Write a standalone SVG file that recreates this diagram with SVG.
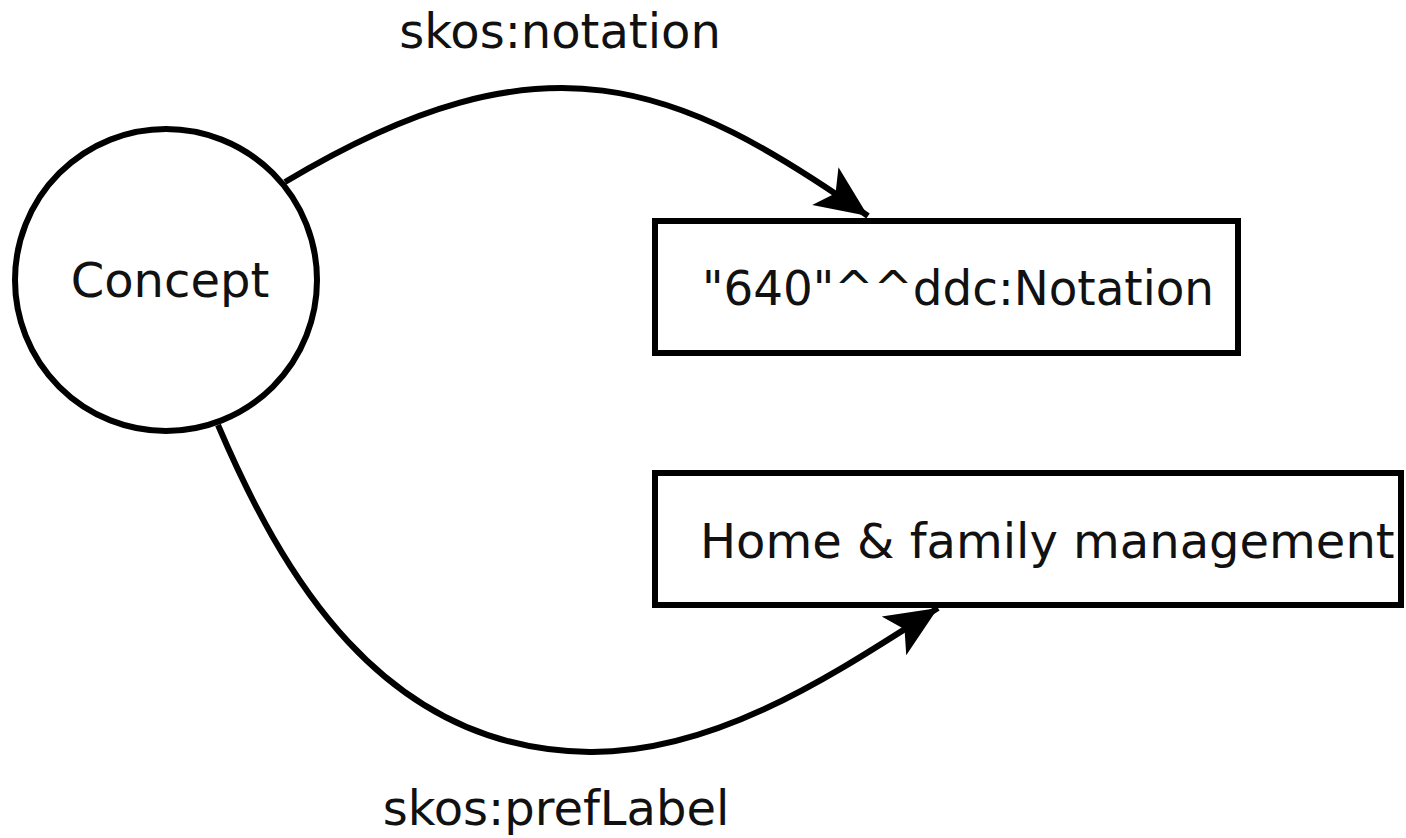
<svg xmlns="http://www.w3.org/2000/svg" width="1406" height="838" viewBox="0 0 1406 838">
<style>
.node{fill:#fff;stroke:#000;stroke-width:6}
.edge{fill:none;stroke:#000;stroke-width:6}
text{font-family:"DejaVu Sans",sans-serif;font-size:48px;fill:#111}
</style>
<defs>
<marker id="arr" markerUnits="userSpaceOnUse" markerWidth="60" markerHeight="50" viewBox="-52 -24 56 48" refX="0" refY="0" orient="auto">
<path d="M0,0 L-50,-22 L-38,0 L-50,22 Z" fill="#000"/>
</marker>
</defs>
<rect width="1406" height="838" fill="#fff"/>
<g id="edges">
<path class="edge" d="M285,182 C545,26 678,83 868,216" marker-end="url(#arr)"/>
<path class="edge" d="M218,425 C280,570 380,750 590,752 C720,753 840,670 938,608" marker-end="url(#arr)"/>
<text x="560" y="48" text-anchor="middle">skos:notation</text>
<text x="556" y="825" text-anchor="middle">skos:prefLabel</text>
</g>
<g id="concept">
<circle class="node" cx="166" cy="280" r="151"/>
<text x="170" y="297" text-anchor="middle" font-size="50">Concept</text>
</g>
<g id="notation">
<rect class="node" x="655" y="221" width="583" height="132"/>
<text x="702" y="305" font-size="47" textLength="512" lengthAdjust="spacingAndGlyphs">"640"^^ddc:Notation</text>
</g>
<g id="preflabel">
<rect class="node" x="655" y="473" width="746" height="132"/>
<text x="700" y="558">Home &amp; family management</text>
</g>
</svg>
